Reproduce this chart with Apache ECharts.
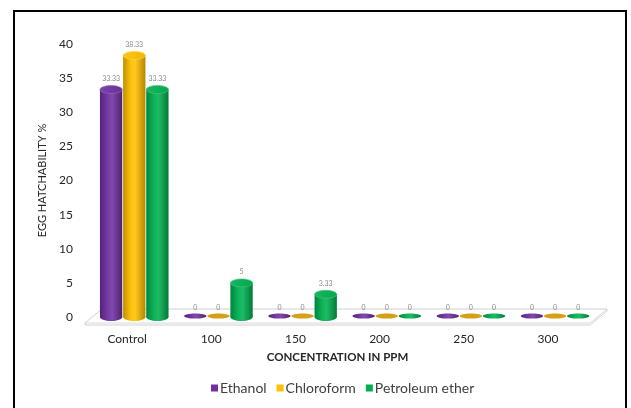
<!DOCTYPE html>
<html>
<head>
<meta charset="utf-8">
<script src="https://cdn.jsdelivr.net/npm/echarts@6/dist/echarts.min.js"></script>
<style>
html,body{margin:0;padding:0;background:#fff;}
#chart{width:631px;height:408px;}
</style>
</head>
<body>
<div id="chart"></div>
<script>
var categories = ['Control', '100', '150', '200', '250', '300'];
var ethanol = [33.33, 0, 0, 0, 0, 0];
var chloroform = [38.33, 0, 0, 0, 0, 0];
var petroleumEther = [33.33, 5, 3.33, 0, 0, 0];
var seriesNames = ['Ethanol', 'Chloroform', 'Petroleum ether'];
var seriesColors = ['#7030A0', '#FFC000', '#00B050'];
var seriesData = [ethanol, chloroform, petroleumEther];

var FONT = 'Lato, "Open Sans", sans-serif';

function shade(hex, f) {
  var r = parseInt(hex.substr(1, 2), 16), g = parseInt(hex.substr(3, 2), 16), b = parseInt(hex.substr(5, 2), 16);
  function c(v) {
    v = f < 0 ? v * (1 + f) : v + (255 - v) * f;
    return Math.max(0, Math.min(255, Math.round(v)));
  }
  return 'rgb(' + c(r) + ',' + c(g) + ',' + c(b) + ')';
}

function makeCylinder(si) {
  var base = seriesColors[si];
  return function (params, api) {
    var idx = api.value(0);
    var val = api.value(1);
    var bottom = api.coord([idx, 0]);
    var top = api.coord([idx, val]);
    var catW = api.size([1, 0])[0];
    var w = catW * 0.265;
    var cx = bottom[0] + catW * 0.085 + (si - 1) * catW * 0.275;
    var children = [];
    var grad = new echarts.graphic.LinearGradient(0, 0, 1, 0, [
      { offset: 0, color: shade(base, -0.25) },
      { offset: 0.35, color: shade(base, 0.05) },
      { offset: 0.55, color: shade(base, 0.12) },
      { offset: 1, color: shade(base, -0.3) }
    ]);
    if (val > 0) {
      var ry = 4;
      children.push({
        type: 'ellipse',
        shape: { cx: cx, cy: bottom[1], rx: w / 2, ry: ry },
        style: { fill: grad }
      });
      children.push({
        type: 'rect',
        shape: { x: cx - w / 2, y: top[1], width: w, height: bottom[1] - top[1] },
        style: { fill: grad }
      });
      children.push({
        type: 'ellipse',
        shape: { cx: cx, cy: top[1], rx: w / 2, ry: ry },
        style: {
          fill: new echarts.graphic.LinearGradient(0, 0, 1, 1, [
            { offset: 0, color: shade(base, 0.1) },
            { offset: 1, color: shade(base, -0.05) }
          ]),
          stroke: shade(base, 0.3), lineWidth: 0.6
        }
      });
    } else {
      children.push({
        type: 'ellipse',
        shape: { cx: cx, cy: bottom[1] - 1, rx: w / 2, ry: 2.6 },
        style: { fill: si === 1 ? '#D4A017' : grad }
      });
    }
    children.push({
      type: 'text',
      style: {
        x: cx, y: top[1] - (val > 0 ? 11 : 9),
        text: String(val),
        fill: '#8c8c8c',
        fontSize: 7,
        fontFamily: FONT,
        align: 'center',
        verticalAlign: 'middle'
      }
    });
    return { type: 'group', children: children };
  };
}

function renderFloor(params, api) {
  var cs = params.coordSys;
  var y0 = api.coord([0, 0])[1];
  var depth = 17;
  var front = y0 + 6, back = y0 - 8;
  var x0 = cs.x, x1 = cs.x + cs.width;
  return {
    type: 'group',
    children: [
      {
        type: 'polygon',
        shape: { points: [[x0, front + 2], [x1, front + 2], [x1 + depth, back + 2], [x1 + depth, back], [x0 + depth, back], [x0, front]] },
        style: { fill: '#ffffff', stroke: '#d0d0d0', lineWidth: 1 }
      },
      {
        type: 'polyline',
        shape: { points: [[x0, front], [x1, front], [x1 + depth, back]] },
        style: { stroke: '#d8d8d8', lineWidth: 1, fill: null }
      }
    ]
  };
}

var series = [{
  type: 'custom',
  name: 'floor',
  renderItem: renderFloor,
  data: [[0, 0]],
  silent: true,
  z: 1
}];
for (var i = 0; i < 3; i++) {
  series.push({
    type: 'custom',
    name: seriesNames[i],
    itemStyle: { color: seriesColors[i] },
    renderItem: makeCylinder(i),
    data: seriesData[i].map(function (v, k) { return [k, v]; }),
    z: 2
  });
}

var chart = echarts.init(document.getElementById('chart'), null, { renderer: 'canvas' });
chart.setOption({
  backgroundColor: '#ffffff',
  animation: false,
  textStyle: { fontFamily: FONT },
  graphic: [{
    type: 'rect',
    shape: { x: 14, y: 11, width: 612, height: 420 },
    style: { fill: null, stroke: '#000', lineWidth: 2 },
    z: 100
  }],
  grid: { left: 85, right: 41, top: 44, bottom: 91 },
  legend: {
    data: seriesNames,
    top: 376,
    left: 206,
    icon: 'rect',
    itemWidth: 7,
    itemHeight: 7,
    itemGap: 10,
    textStyle: { fontSize: 14, color: '#404040', fontFamily: FONT, padding: [0, 0, 0, -3] }
  },
  xAxis: {
    type: 'category',
    data: categories,
    axisLine: { show: false },
    axisTick: { show: false },
    axisLabel: { fontSize: 12, color: '#262626', margin: 16, fontFamily: FONT },
    name: 'CONCENTRATION IN PPM',
    nameLocation: 'middle',
    nameGap: 34,
    nameTextStyle: { fontSize: 11.5, fontWeight: 'bold', color: '#262626', fontFamily: FONT }
  },
  yAxis: {
    type: 'value',
    min: 0,
    max: 40,
    interval: 5,
    splitLine: { show: false },
    axisLine: { show: false },
    axisTick: { show: false },
    axisLabel: { fontSize: 12, color: '#262626', margin: 12, padding: [8, 0, 0, 0], fontFamily: FONT },
    name: 'EGG HATCHABILITY %',
    nameLocation: 'middle',
    nameRotate: 90,
    nameGap: 34,
    nameTextStyle: { fontSize: 11, color: '#262626', fontFamily: FONT }
  },
  series: series
});
</script>
</body>
</html>
